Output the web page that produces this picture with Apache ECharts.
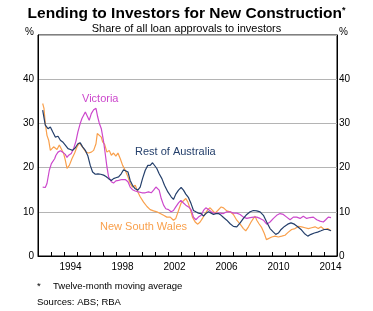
<!DOCTYPE html>
<html>
<head>
<meta charset="utf-8">
<script src="https://cdn.jsdelivr.net/npm/echarts@6/dist/echarts.min.js"></script>
<style>
  html, body { margin: 0; padding: 0; background: #ffffff; }
  #chart { width: 373px; height: 311px; }
</style>
</head>
<body>
<div id="chart"></div>
<script>
// year bands along the bottom axis
const years = [];
for (let y = 1992; y <= 2014; y++) years.push(String(y));
const shownYears = ['1994', '1998', '2002', '2006', '2010', '2014'];

// [decimal year, per cent]
const restOfAustralia = [
  [1992.36, 33.0], [1992.56, 29.6], [1992.77, 28.8], [1992.95, 29.2], [1993.13, 28.1],
  [1993.33, 26.9], [1993.54, 27.1], [1993.72, 26.2], [1993.90, 25.8], [1994.10, 25.1],
  [1994.31, 24.3], [1994.49, 24.1], [1994.66, 23.9], [1994.87, 24.5], [1995.07, 25.4],
  [1995.25, 25.6], [1995.43, 24.7], [1995.64, 23.9], [1995.84, 22.6], [1996.02, 20.5],
  [1996.20, 19.0], [1996.41, 18.5], [1996.61, 18.6], [1996.82, 18.5], [1997.05, 18.3],
  [1997.23, 18.0], [1997.43, 17.5], [1997.64, 17.1], [1997.81, 17.5], [1997.99, 17.7],
  [1998.20, 17.9], [1998.40, 18.6], [1998.58, 19.5], [1998.71, 19.8], [1998.92, 19.0],
  [1999.09, 17.1], [1999.27, 16.0], [1999.48, 15.2], [1999.68, 14.9], [1999.86, 15.6],
  [2000.04, 17.5], [2000.25, 19.4], [2000.45, 20.5], [2000.63, 20.5], [2000.81, 21.1],
  [2000.96, 20.9], [2001.14, 19.8], [2001.32, 18.6], [2001.53, 17.5], [2001.73, 16.0],
  [2001.99, 14.5], [2002.24, 13.4], [2002.42, 12.8], [2002.60, 14.0], [2002.81, 14.9],
  [2003.01, 15.5], [2003.19, 14.9], [2003.37, 14.0], [2003.58, 13.2], [2003.78, 11.8],
  [2003.96, 10.3], [2004.14, 10.0], [2004.34, 9.7], [2004.55, 9.6], [2004.73, 9.0],
  [2004.91, 9.6], [2005.11, 10.0], [2005.32, 9.7], [2005.50, 9.4], [2005.68, 9.6],
  [2005.88, 9.6], [2006.09, 9.2], [2006.27, 8.7], [2006.52, 8.1], [2006.78, 7.3],
  [2007.03, 6.7], [2007.29, 6.6], [2007.55, 7.5], [2007.80, 8.5], [2008.06, 9.4],
  [2008.32, 10.0], [2008.57, 10.3], [2008.83, 10.2], [2009.08, 10.0], [2009.34, 9.2],
  [2009.59, 7.7], [2009.85, 6.2], [2010.11, 5.4], [2010.29, 4.9], [2010.49, 5.2],
  [2010.70, 6.0], [2010.96, 6.7], [2011.21, 7.2], [2011.46, 7.5], [2011.72, 7.2],
  [2011.98, 6.6], [2012.23, 6.0], [2012.49, 5.1], [2012.75, 4.5], [2013.00, 4.9],
  [2013.26, 5.2], [2013.51, 5.4], [2013.77, 5.7], [2014.02, 6.0], [2014.28, 6.0],
  [2014.54, 5.7]
];

const victoria = [
  [1992.36, 15.6], [1992.56, 15.5], [1992.69, 16.4], [1992.87, 19.4], [1993.03, 20.9],
  [1993.13, 20.5], [1993.28, 22.0], [1993.38, 22.8], [1993.54, 23.5], [1993.72, 23.8],
  [1993.90, 23.5], [1994.10, 23.0], [1994.23, 22.3], [1994.36, 22.8], [1994.56, 23.2],
  [1994.74, 24.3], [1994.92, 26.0], [1995.07, 28.1], [1995.25, 30.0], [1995.38, 31.1],
  [1995.51, 30.7], [1995.64, 32.6], [1995.77, 32.2], [1995.94, 30.7], [1996.10, 32.2],
  [1996.28, 33.1], [1996.46, 33.4], [1996.59, 31.5], [1996.71, 30.1], [1996.87, 28.8],
  [1997.05, 25.8], [1997.17, 23.2], [1997.30, 20.2], [1997.43, 17.9], [1997.64, 16.8],
  [1997.81, 16.5], [1997.99, 17.0], [1998.20, 17.1], [1998.45, 17.3], [1998.71, 17.3],
  [1998.92, 16.8], [1999.09, 15.6], [1999.27, 15.0], [1999.48, 14.7], [1999.73, 14.5],
  [1999.99, 14.3], [2000.25, 14.3], [2000.50, 14.5], [2000.71, 14.3], [2000.89, 14.9],
  [2001.07, 15.6], [2001.22, 16.0], [2001.32, 14.9], [2001.48, 13.0], [2001.66, 11.5],
  [2001.83, 10.7], [2002.04, 10.5], [2002.24, 10.0], [2002.42, 10.3], [2002.60, 11.1],
  [2002.81, 12.0], [2002.99, 12.6], [2003.19, 12.0], [2003.37, 11.5], [2003.58, 11.1],
  [2003.78, 10.5], [2003.96, 8.8], [2004.14, 8.2], [2004.34, 8.8], [2004.55, 9.2],
  [2004.73, 10.3], [2004.91, 10.9], [2005.11, 10.5], [2005.32, 10.0], [2005.50, 9.7],
  [2005.75, 9.7], [2006.01, 9.7], [2006.27, 9.6], [2006.52, 10.0], [2006.78, 10.0],
  [2007.03, 9.7], [2007.29, 9.7], [2007.55, 9.4], [2007.80, 8.8], [2008.06, 8.5],
  [2008.32, 8.7], [2008.57, 8.8], [2008.83, 8.8], [2009.08, 8.5], [2009.34, 8.1],
  [2009.59, 7.2], [2009.85, 7.7], [2010.11, 8.5], [2010.36, 9.2], [2010.62, 9.6],
  [2010.87, 9.4], [2011.13, 8.8], [2011.39, 8.2], [2011.64, 8.8], [2011.90, 8.8],
  [2012.16, 8.5], [2012.41, 9.0], [2012.67, 8.5], [2012.92, 8.7], [2013.18, 8.8],
  [2013.44, 8.2], [2013.69, 7.9], [2013.95, 7.7], [2014.13, 8.2], [2014.33, 8.8],
  [2014.54, 8.7]
];

const newSouthWales = [
  [1992.36, 34.5], [1992.46, 33.4], [1992.56, 30.0], [1992.69, 27.3], [1992.82, 26.2],
  [1992.95, 23.9], [1993.08, 24.3], [1993.20, 24.7], [1993.33, 25.1], [1993.46, 24.1],
  [1993.64, 25.1], [1993.79, 24.7], [1993.97, 23.2], [1994.10, 21.7], [1994.23, 19.8],
  [1994.41, 20.5], [1994.61, 22.0], [1994.82, 23.3], [1995.00, 24.7], [1995.18, 25.6],
  [1995.33, 25.8], [1995.51, 24.3], [1995.69, 23.5], [1995.89, 23.3], [1996.10, 23.5],
  [1996.28, 23.9], [1996.46, 25.4], [1996.56, 27.7], [1996.71, 27.8], [1996.87, 26.9],
  [1996.97, 25.8], [1997.12, 25.3], [1997.30, 23.5], [1997.48, 23.9], [1997.64, 22.8],
  [1997.81, 23.3], [1997.99, 22.6], [1998.15, 23.3], [1998.33, 22.0], [1998.51, 20.5],
  [1998.71, 19.4], [1998.92, 17.9], [1999.09, 16.4], [1999.27, 15.6], [1999.48, 16.0],
  [1999.68, 14.5], [1999.86, 13.4], [2000.12, 12.2], [2000.38, 11.2], [2000.63, 10.5],
  [2000.89, 10.2], [2001.14, 10.0], [2001.40, 9.6], [2001.66, 9.2], [2001.91, 8.8],
  [2002.17, 8.8], [2002.42, 8.1], [2002.60, 8.5], [2002.81, 10.3], [2003.01, 12.0],
  [2003.19, 12.5], [2003.37, 13.0], [2003.53, 12.2], [2003.70, 10.7], [2003.88, 8.8],
  [2004.09, 7.7], [2004.29, 7.2], [2004.47, 7.7], [2004.65, 8.5], [2004.86, 9.6],
  [2005.06, 10.5], [2005.24, 10.9], [2005.42, 10.3], [2005.62, 9.7], [2005.83, 10.3],
  [2006.09, 11.1], [2006.27, 10.9], [2006.52, 10.2], [2006.78, 10.0], [2007.03, 9.4],
  [2007.29, 8.1], [2007.55, 7.2], [2007.80, 6.2], [2007.98, 5.7], [2008.19, 6.6],
  [2008.39, 7.7], [2008.57, 8.5], [2008.70, 9.0], [2008.83, 8.1], [2009.00, 7.3],
  [2009.21, 6.4], [2009.41, 5.1], [2009.57, 3.7], [2009.72, 3.9], [2009.98, 4.3],
  [2010.23, 4.5], [2010.49, 4.3], [2010.75, 4.5], [2011.00, 4.7], [2011.26, 5.4],
  [2011.51, 6.0], [2011.77, 6.2], [2012.03, 6.7], [2012.28, 6.6], [2012.54, 6.4],
  [2012.80, 6.2], [2013.05, 6.4], [2013.31, 6.6], [2013.56, 6.2], [2013.77, 6.6],
  [2014.02, 6.0], [2014.28, 6.2], [2014.54, 5.7]
];

const FONT = '"Liberation Sans", Arial, sans-serif';
const NAVY = '#243f6b';
const PURPLE = '#cc48cc';
const ORANGE = '#f9a04c';

const chart = echarts.init(document.getElementById('chart'));

const lineSeries = (name, data, color) => ({
  name: name,
  type: 'line',
  xAxisIndex: 1,
  yAxisIndex: 0,
  data: data,
  symbol: 'none',
  silent: true,
  lineStyle: { color: color, width: 1.2 }
});

const option = {
  animation: false,
  backgroundColor: '#ffffff',
  textStyle: { fontFamily: FONT },
  title: [
    {
      text: '{a|Lending to Investors for New Construction}{b|*}',
      left: 'center',
      top: 1,
      textStyle: {
        rich: {
          a: { fontFamily: FONT, fontSize: 15.5, fontWeight: 'bold', color: '#000' },
          b: { fontFamily: FONT, fontSize: 9, color: '#000', verticalAlign: 'top' }
        }
      }
    },
    {
      text: 'Share of all loan approvals to investors',
      left: 'center',
      top: 18,
      textStyle: { fontFamily: FONT, fontSize: 11, fontWeight: 'normal', color: '#000' }
    }
  ],
  grid: {
    left: 38, right: 36, top: 35, bottom: 55,
    show: true, borderColor: '#000', borderWidth: 1
  },
  xAxis: [
    {
      type: 'category',
      data: years,
      boundaryGap: true,
      axisLine: { lineStyle: { color: '#000', width: 1 } },
      axisTick: { show: true, inside: true, length: 4, interval: 0, lineStyle: { color: '#000' } },
      axisLabel: {
        interval: (i, v) => shownYears.includes(v),
        color: '#000', fontFamily: FONT, fontSize: 10, margin: 6
      },
      splitLine: { show: false }
    },
    {
      type: 'value',
      min: 1992, max: 2015,
      show: false,
      splitLine: { show: false }
    }
  ],
  yAxis: [
    {
      type: 'value',
      min: 0, max: 50, interval: 10,
      position: 'left',
      axisLine: { show: true, lineStyle: { color: '#000' } },
      axisTick: { show: false },
      splitLine: { show: true, lineStyle: { color: '#b4b4b4', width: 1 } },
      axisLabel: {
        color: '#000', fontFamily: FONT, fontSize: 10, margin: 4,
        formatter: v => v === 50 ? '{p|%}' : String(v),
        rich: { p: { fontFamily: FONT, fontSize: 10, color: '#000', padding: [0, 0, 6, 0] } }
      }
    },
    {
      type: 'value',
      min: 0, max: 50, interval: 10,
      position: 'right',
      axisLine: { show: true, lineStyle: { color: '#000' } },
      axisTick: { show: false },
      splitLine: { show: false },
      axisLabel: {
        color: '#000', fontFamily: FONT, fontSize: 10, margin: 2,
        formatter: v => v === 50 ? '{p|%}' : String(v),
        rich: { p: { fontFamily: FONT, fontSize: 10, color: '#000', padding: [0, 0, 6, 0] } }
      }
    }
  ],
  series: [
    lineSeries('New South Wales', newSouthWales, ORANGE),
    lineSeries('Victoria', victoria, PURPLE),
    lineSeries('Rest of Australia', restOfAustralia, NAVY)
  ],
  graphic: [
    { type: 'text', left: 82, top: 93, style: { text: 'Victoria', fill: PURPLE, font: '11px ' + FONT } },
    { type: 'text', left: 135, top: 146, style: { text: 'Rest of Australia', fill: NAVY, font: '11px ' + FONT } },
    { type: 'text', left: 100, top: 221, style: { text: 'New South Wales', fill: ORANGE, font: '11px ' + FONT } },
    { type: 'text', left: 37, top: 281, style: { text: '*', fill: '#000', font: '9.5px ' + FONT } },
    { type: 'text', left: 53, top: 281, style: { text: 'Twelve-month moving average', fill: '#000', font: '9.5px ' + FONT } },
    { type: 'text', left: 37, top: 297, style: { text: 'Sources: ABS; RBA', fill: '#000', font: '9.5px ' + FONT } }
  ]
};

chart.setOption(option);
</script>
</body>
</html>
